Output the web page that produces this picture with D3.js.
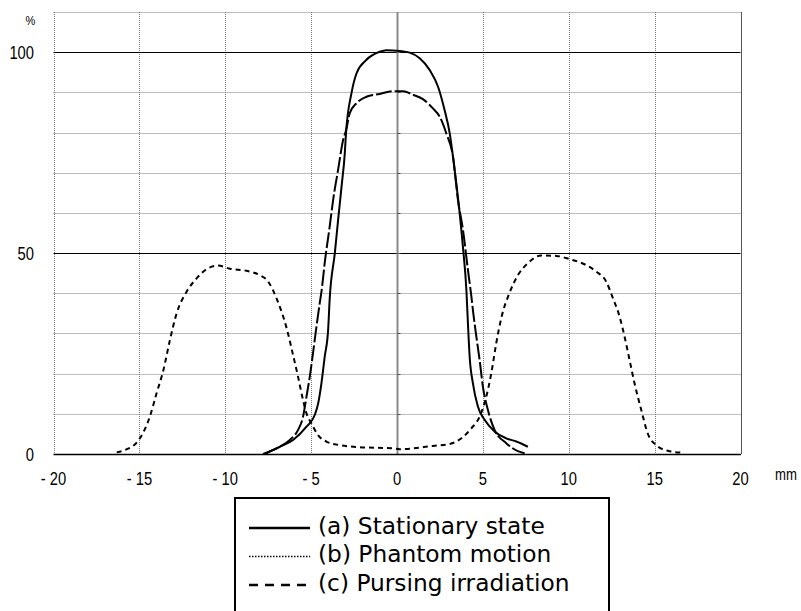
<!DOCTYPE html>
<html>
<head>
<meta charset="utf-8">
<script src="https://cdn.jsdelivr.net/npm/d3@7"></script>
<style>
  html, body { margin: 0; padding: 0; background: #fff; }
  svg { display: block; }
</style>
</head>
<body>
<div id="chart"></div>
<script>
// ---- Data ----
const xTicks = [-20, -15, -10, -5, 0, 5, 10, 15, 20];
const xTickLabels = ["- 20", "- 15", "- 10", "- 5", "0", "5", "10", "15", "20"];
const yLabelTicks = [0, 50, 100];
const yGridTicks = [10, 20, 30, 40, 60, 70, 80, 90];
const yMajorTicks = [50, 100];

// (a) Stationary state: [mm, %]
const stationaryX = [-7.7, -6.82, -6.05, -5.27, -4.79, -4.59, -4.4, -4.21, -4.01, -3.92, -3.62, -3.43, -3.23, -3.04, -2.97, -2.65, -2.36, -1.78, -1.01, -0.62, 0.16, 0.74, 1.32, 1.9, 2.39, 2.77, 3.07, 3.26, 3.45, 3.65, 3.84, 4.04, 4.13, 4.23, 4.42, 4.71, 5.1, 5.68, 6.36, 6.95, 7.62];
const stationaryY = [0, 1.8, 3.5, 6.8, 9.7, 12.6, 17.6, 24.2, 30.9, 38.5, 50, 58.2, 66.5, 74.8, 79.8, 89.8, 94.7, 98.1, 100.1, 100.5, 100.3, 99.9, 98.5, 95.6, 91.4, 85.6, 79.8, 74, 67.4, 59.9, 51.5, 40.8, 32.5, 24.2, 17.6, 11.8, 8.5, 5.6, 3.9, 3.1, 1.8];

// (b) Phantom motion
const phantomX = [-16.32, -15.84, -15.07, -14.39, -14.0, -13.6, -13.22, -12.83, -12.25, -11.67, -11.09, -10.41, -9.73, -8.76, -7.99, -7.5, -7.02, -6.4, -6.05, -5.76, -5.47, -5.27, -4.98, -4.6, -4.11, -3.33, -2.17, -0.23, 0.16, 2.09, 3.07, 3.75, 4.33, 4.81, 5.2, 5.49, 5.78, 6.07, 6.56, 7.04, 7.62, 8.4, 9.27, 10.05, 11.02, 11.6, 12.18, 12.57, 12.96, 13.25, 13.54, 13.83, 14.22, 14.6, 15.09, 15.77, 16.64];
const phantomY = [0.4, 1, 3.3, 9.3, 15.1, 20.9, 28.4, 35, 40.4, 43.7, 46, 46.9, 46.1, 45.6, 44.5, 42.9, 38.8, 30.9, 24.6, 19.2, 13.4, 10.1, 7.6, 4.7, 3.1, 2.2, 1.7, 1.4, 1.2, 2, 2.5, 3.9, 6.4, 9.3, 14.3, 20.1, 27.6, 33.8, 40.2, 44.5, 47.5, 49.4, 49.3, 48.5, 47, 45.4, 42.9, 38.8, 34.2, 29.2, 23.4, 17.6, 11, 5.1, 2.2, 0.8, 0.3];

// (c) Pursing irradiation
const pursingX = [-7.8, -7.02, -6.24, -5.76, -5.47, -5.27, -5.08, -4.89, -4.69, -4.5, -4.38, -4.21, -3.92, -3.72, -3.43, -3.14, -2.97, -2.75, -2.36, -1.78, -1.01, -0.23, 0.35, 0.93, 1.51, 2.09, 2.48, 2.87, 3.26, 3.55, 3.84, 4.13, 4.33, 4.42, 4.62, 4.81, 5.0, 5.29, 5.68, 6.36, 7.04, 7.43];
const pursingY = [0, 1.4, 3.5, 6, 9.3, 14.3, 19.2, 25.1, 31.7, 37.5, 41, 47.5, 56.6, 63.2, 70.7, 78.1, 80.5, 84.8, 87.3, 88.9, 89.6, 90.3, 90.3, 89.4, 88.3, 86, 84, 79.8, 74, 63.2, 55.8, 45.8, 39.2, 35.8, 29.2, 23.4, 16.8, 11, 6, 2.7, 0.7, 0.2];

const legendLabels = ["(a) Stationary state", "(b) Phantom motion", "(c) Pursing irradiation"];

// ---- Layout ----
const W = 801, H = 611;
const svg = d3.select("#chart").append("svg").attr("width", W).attr("height", H);

const x = d3.scaleLinear().domain([-20, 20]).range([53.5, 740.5]);
const y = d3.scaleLinear().domain([0, 110]).range([454, 12]);

const tickFont = "'Liberation Sans', Arial, sans-serif";
const narrow = 0.82;

// Grid: vertical dotted
const g = svg.append("g");
g.selectAll("line.vgrid").data(xTicks.filter(d => d !== 0))
  .enter().append("line")
  .attr("x1", d => Math.round(x(d)) + 0.5).attr("x2", d => Math.round(x(d)) + 0.5)
  .attr("y1", y(110)).attr("y2", y(0))
  .attr("stroke", "#7a7a7a").attr("stroke-width", 1).attr("stroke-dasharray", "1,1");

// Horizontal dotted grid
g.selectAll("line.hgrid").data(yGridTicks.concat([110]))
  .enter().append("line")
  .attr("x1", x(-20)).attr("x2", x(20))
  .attr("y1", d => Math.round(y(d)) + 0.5).attr("y2", d => Math.round(y(d)) + 0.5)
  .attr("stroke", "#7a7a7a").attr("stroke-width", 1).attr("stroke-dasharray", "1,1");

// Right border
g.append("line")
  .attr("x1", Math.round(x(20)) + 0.5).attr("x2", Math.round(x(20)) + 0.5)
  .attr("y1", y(110)).attr("y2", y(0))
  .attr("stroke", "#555").attr("stroke-width", 1);

// Major horizontal lines (50, 100)
g.selectAll("line.hmajor").data(yMajorTicks)
  .enter().append("line")
  .attr("x1", x(-20)).attr("x2", x(20))
  .attr("y1", d => Math.round(y(d)) + 0.5).attr("y2", d => Math.round(y(d)) + 0.5)
  .attr("stroke", "#000").attr("stroke-width", 1);

// Zero vertical axis (gray) with small ticks
const x0 = Math.round(x(0)) + 0.5;
g.append("line")
  .attr("x1", x0).attr("x2", x0).attr("y1", y(110)).attr("y2", y(0))
  .attr("stroke", "#8a8a8a").attr("stroke-width", 2);
g.selectAll("line.ztick").data(d3.range(10, 110, 10))
  .enter().append("line")
  .attr("x1", x0).attr("x2", x0 + 3)
  .attr("y1", d => Math.round(y(d)) + 0.5).attr("y2", d => Math.round(y(d)) + 0.5)
  .attr("stroke", "#555").attr("stroke-width", 1);

// Bottom axis (black)
g.append("line")
  .attr("x1", x(-20)).attr("x2", x(20) + 0.5)
  .attr("y1", y(0) + 0.5).attr("y2", y(0) + 0.5)
  .attr("stroke", "#000").attr("stroke-width", 1.5);

// ---- Curves ----
const line = d3.line().x(d => x(d[0])).y(d => y(d[1])).curve(d3.curveMonotoneX);
const series = [
  { xs: stationaryX, ys: stationaryY, dash: null },
  { xs: phantomX, ys: phantomY, dash: "5,4" },
  { xs: pursingX, ys: pursingY, dash: "16,3" }
];
series.forEach(s => {
  const pts = s.xs.map((v, i) => [v, s.ys[i]]);
  svg.append("path").datum(pts)
    .attr("d", line)
    .attr("fill", "none")
    .attr("stroke", "#000")
    .attr("stroke-width", 2)
    .attr("stroke-linejoin", "round")
    .attr("stroke-dasharray", s.dash);
});

// ---- Axis labels (narrow: horizontally condensed) ----
function narrowText(sel, px, py, txt, size, anchor) {
  sel.append("text")
    .attr("transform", `translate(${px},${py}) scale(${narrow},1)`)
    .attr("text-anchor", anchor)
    .attr("font-family", tickFont).attr("font-size", size)
    .attr("fill", "#000")
    .style("white-space", "pre")
    .text(txt);
}
yLabelTicks.forEach(d => narrowText(svg, 34, y(d) + 6.5, String(d), 18, "end"));
xTicks.forEach((d, i) => narrowText(svg, x(d), 485, xTickLabels[i], 18, "middle"));
narrowText(svg, 30.5, 25, "%", 13.5, "middle");
narrowText(svg, 775, 480, "mm", 16, "start");

// ---- Legend ----
const lg = svg.append("g");
lg.append("path")
  .attr("d", "M235,612 L235,498 L609,498 L609,612")
  .attr("fill", "none").attr("stroke", "#000").attr("stroke-width", 2);

const legDash = [null, "1.5,1.5", "9,7"];
const legWidth = [2.5, 1.5, 2.5];
const rowY = [533.5, 562, 590.5];
legendLabels.forEach((lab, i) => {
  lg.append("line")
    .attr("x1", 249).attr("x2", 310)
    .attr("y1", rowY[i] - 5.5).attr("y2", rowY[i] - 5.5)
    .attr("stroke", "#000").attr("stroke-width", legWidth[i])
    .attr("stroke-dasharray", legDash[i]);
  lg.append("text")
    .attr("x", 318).attr("y", rowY[i])
    .attr("font-family", "'DejaVu Sans', sans-serif").attr("font-size", 23.3)
    .attr("fill", "#000")
    .text(lab);
});
</script>
</body>
</html>
